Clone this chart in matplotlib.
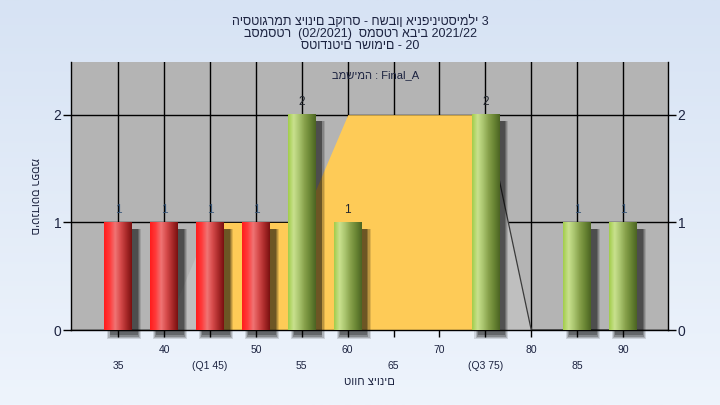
import numpy as np
import matplotlib.pyplot as plt
from matplotlib.colors import LinearSegmentedColormap
from matplotlib.patches import Rectangle

# נתונים
grades = [35, 40, 45, 50, 55, 60, 65, 70, 75, 80, 85, 90]
counts = [1, 1, 1, 1, 2, 1, 0, 0, 2, 0, 1, 1]
bar_kind = ["r", "r", "r", "r", "g", "g", "g", "g", "g", "g", "g", "g"]
area_vals = [0, 0, 1, 1, 1, 2, 2, 2, 2, 0, 0, 0]
tick_text = ["35", "40", "(Q1 45)", "50", "55", "60", "65", "70", "(Q3 75)", "80", "85", "90"]
q1_idx, q3_idx = 2, 8

title_lines = ["היסטוגרמת ציונים בקורס - חשבון אינפיניטסימלי 3",
               "בסמסטר  (02/2021)  סמסטר אביב 2021/22",
               "סטודנטים רשומים - 20"]
task_text = "במשימה : Final_A"
xlabel = "טווח ציונים"
ylabel = "מספר סטודנטים"

plt.rcParams['font.family'] = ['Liberation Sans', 'DejaVu Sans']
txt_col = "#1c2340"

fig = plt.figure(figsize=(7.2, 4.05), dpi=100)

# רקע מדורג
bg = fig.add_axes([0, 0, 1, 1], zorder=-10)
grad = np.linspace(0, 1, 256).reshape(-1, 1)
bg_cmap = LinearSegmentedColormap.from_list("bg", ["#d7e3f4", "#eef4fc"])
bg.imshow(grad, cmap=bg_cmap, aspect="auto", extent=[0, 1, 0, 1], origin="upper")
bg.axis("off")

ax = fig.add_axes([0.0986, 0.185, 0.8292, 0.662])
ax.set_facecolor("#b4b4b4")
x = np.arange(len(grades))

ax.set_axisbelow(True)
ax.grid(True, color="black", lw=1)

# שטח (אפור / צהוב בין הרבעונים)
xa = np.array(x, dtype=float)
ya = np.array(area_vals, dtype=float)
ax.fill_between(xa[:q1_idx + 1], ya[:q1_idx + 1], color="#bfbfbf", lw=0, zorder=1)
ax.fill_between(xa[q3_idx:], ya[q3_idx:], color="#bfbfbf", lw=0, zorder=1)
ax.fill_between(xa[q1_idx:q3_idx + 1], ya[q1_idx:q3_idx + 1], color="#fecb57", lw=0, zorder=1.1)
ax.plot(xa[q3_idx:], ya[q3_idx:], color="#3a3a3a", lw=0.9, zorder=1.2)
ax.plot(xa[:2], ya[:2], color="#5a5a5a", lw=0.9, zorder=1.2, clip_on=False)

red_cmap = LinearSegmentedColormap.from_list(
    "red", ["#ff1c1c", "#ff3a3a", "#f07474", "#d54a4a", "#aa2a2a", "#7a1010"])
green_cmap = LinearSegmentedColormap.from_list(
    "green", ["#a2cd4a", "#c9e18e", "#a9c46e", "#86a04a", "#688433", "#4b6422"])
row = np.linspace(0, 1, 200).reshape(1, -1)

w = 0.6
dx, dy = 0.13, 0.05
for i, (c, k) in enumerate(zip(counts, bar_kind)):
    if c == 0:
        continue
    # צל
    for s, a in [(0.07, 0.12), (0.045, 0.16), (0.02, 0.22), (0.0, 0.25)]:
        ax.add_patch(Rectangle((i - w / 2 + dx - s, -dy - s * 0.5), w + 2 * s,
                               c + s * 0.5 - 0.01, color="black", alpha=a, lw=0,
                               zorder=2, clip_on=False))
    ax.imshow(row, cmap=red_cmap if k == "r" else green_cmap, aspect="auto",
              extent=[i - w / 2, i + w / 2, 0, c], zorder=3)
    lab_col = "#22262e" if i in (4, 5, 8) else "#3d5a7a"
    ax.text(i, c + 0.06, str(c), ha="center", va="bottom", fontsize=8.5,
            color=lab_col, zorder=4)

ax.set_xlim(-1.03, 11.98)
ax.set_ylim(0, 2.49)

ax.set_xticks(x)
ax.set_xticklabels([t if i % 2 else "\n" + t for i, t in enumerate(tick_text)],
                   fontsize=7.5, color=txt_col, linespacing=1.75)
ax.set_yticks([0, 1, 2])
ax.tick_params(axis="y", labelsize=10, colors=txt_col, length=6, width=1,
               right=True, labelright=True, pad=1)
ax.tick_params(axis="x", length=5, width=1, pad=6, colors=txt_col)
ax.tick_params(axis="both", color="black")

for s in ["left", "bottom", "right"]:
    ax.spines[s].set_color("black")
    ax.spines[s].set_linewidth(1)
ax.spines["top"].set_visible(False)

ax.text(0.51, 0.952, task_text, transform=ax.transAxes, ha="center", va="center",
        fontsize=8, color=txt_col)

ax.set_xlabel(xlabel, fontsize=8, color=txt_col, labelpad=4)
ax.set_ylabel(ylabel, fontsize=8, color=txt_col, rotation=270, va="center")
ax.yaxis.set_label_coords(-0.062, 0.5)

fig.text(0.5, 0.963, "\n".join(title_lines), ha="center", va="top", fontsize=9,
         color=txt_col, linespacing=1.0)

fig.savefig("out.png", dpi=100)
